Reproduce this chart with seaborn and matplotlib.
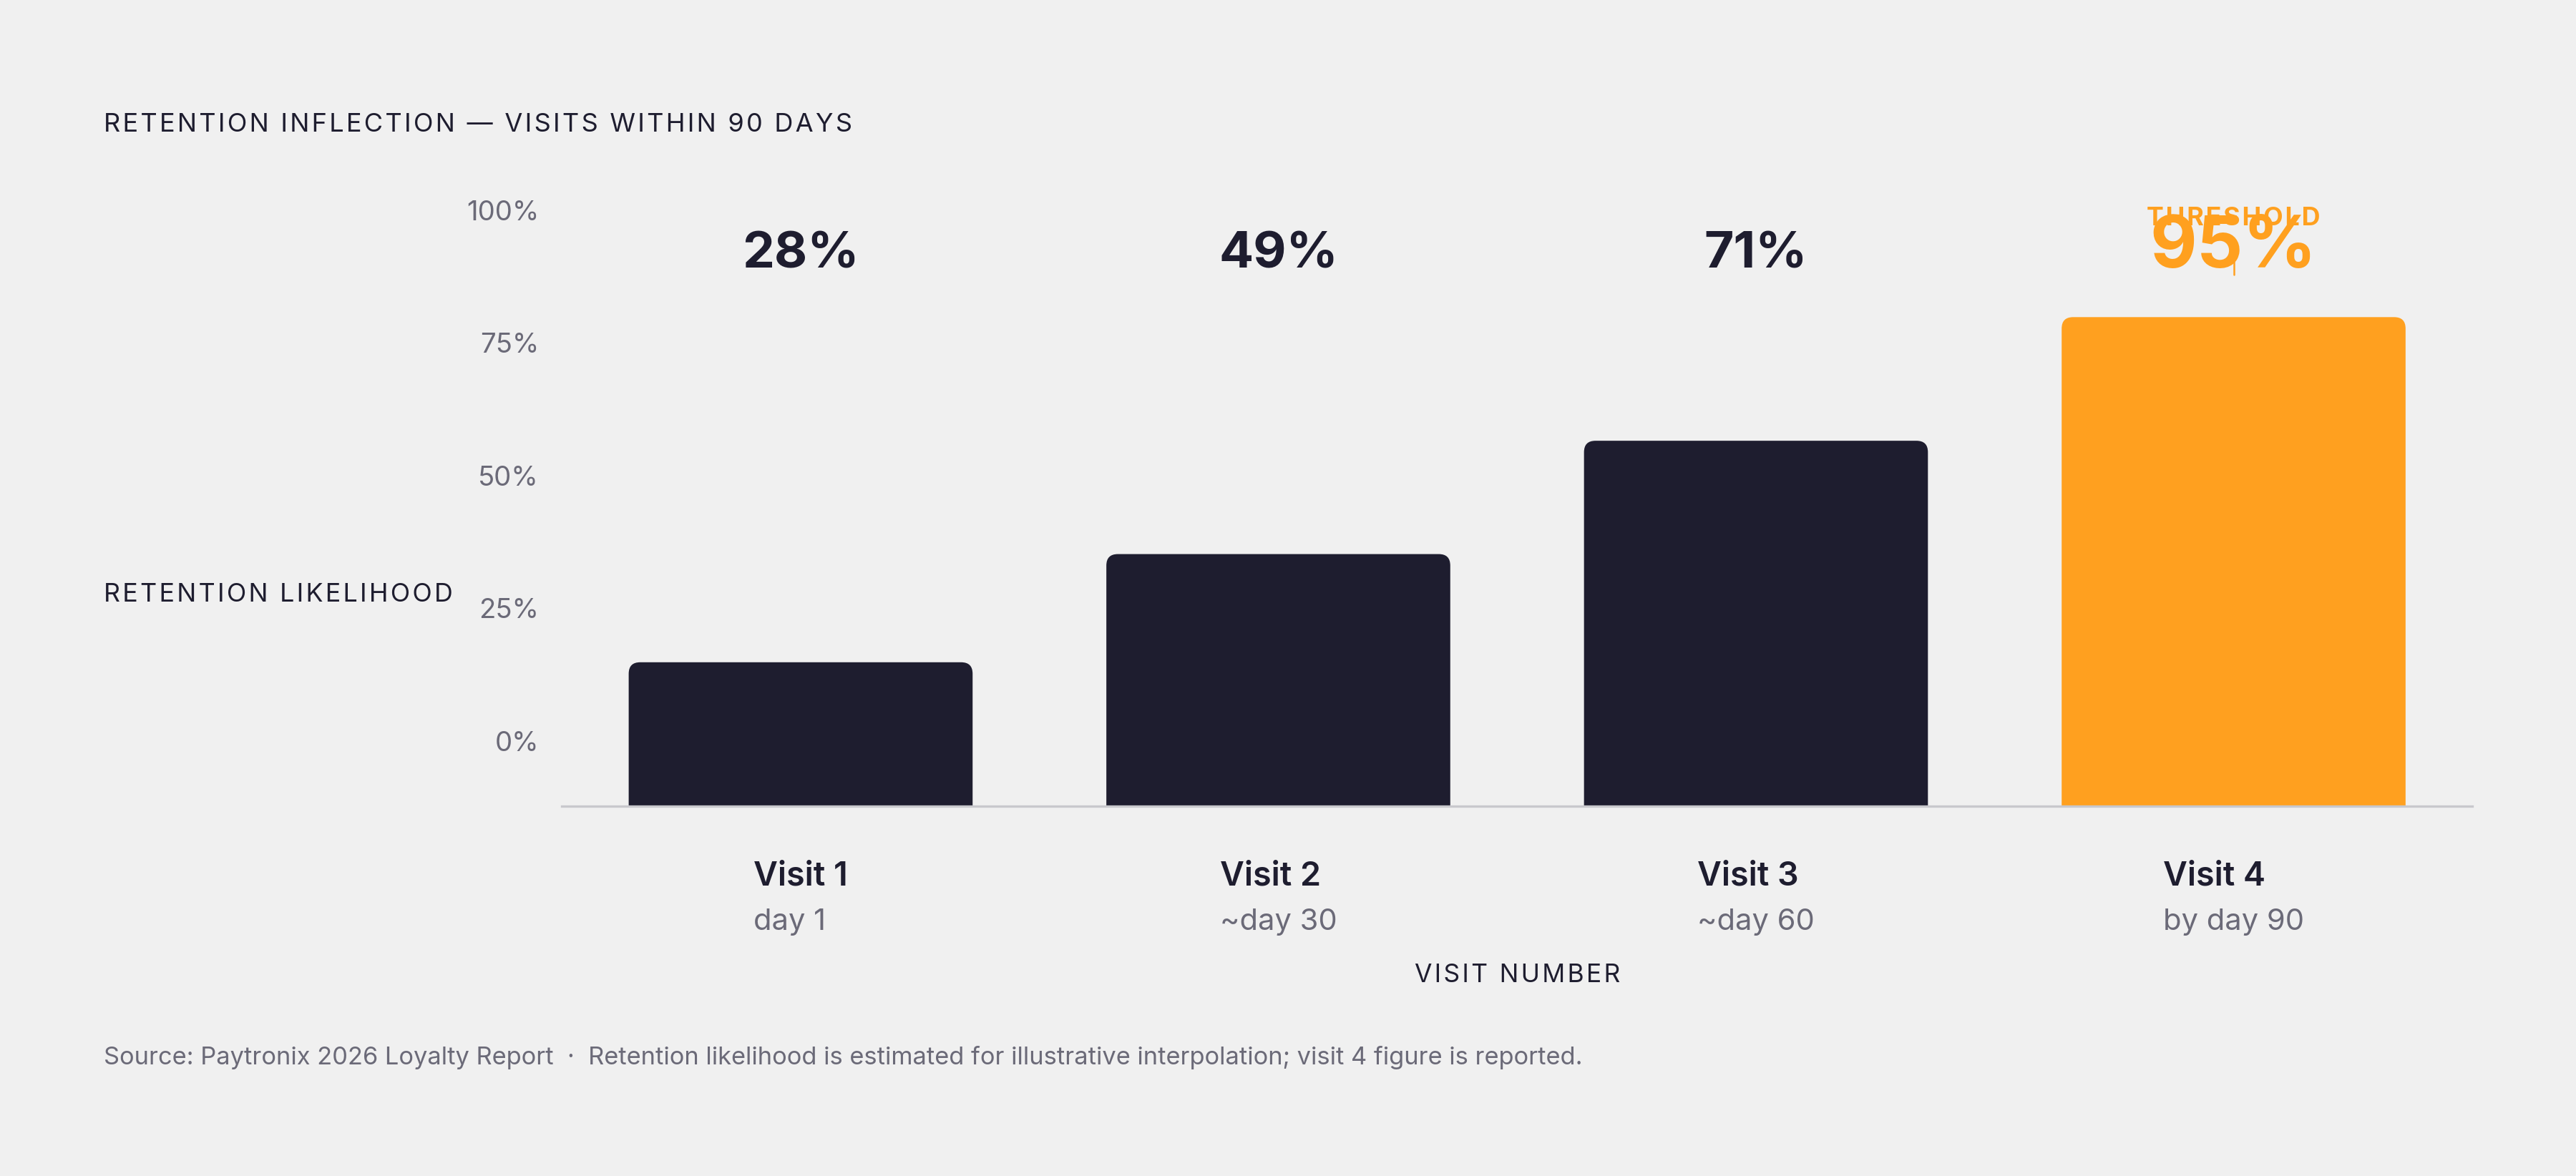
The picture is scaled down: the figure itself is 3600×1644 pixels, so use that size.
import matplotlib
matplotlib.use('Agg')
import matplotlib.pyplot as plt
from matplotlib import transforms
from matplotlib.patches import FancyBboxPatch
import seaborn as sns

# chart data
visits = ['Visit 1', 'Visit 2', 'Visit 3', 'Visit 4']
days = ['day 1', '~day 30', '~day 60', 'by day 90']
retention = [28, 49, 71, 95]
tick_values = [0, 25, 50, 75, 100]
tick_labels = ['0%', '25%', '50%', '75%', '100%']

BG = '#f0f0f0'
INK = '#1e1d2f'
ORANGE = '#ffa01f'
GREY = '#6b6a78'
RULE = '#c8c8cd'

sns.set_theme(style='white')
plt.rcParams['font.family'] = ['Inter', 'DejaVu Sans']


def spaced(s):
    '''fake letter spacing with hair spaces'''
    return '\u200a'.join(s)


fig = plt.figure(figsize=(12, 5.48), dpi=300, facecolor=BG)
ax = fig.add_axes([0.2181, 0.3142, 0.7417, 0.5182])
ax.set_facecolor(BG)

colors = [INK, INK, INK, ORANGE]
sns.barplot(x=visits, y=retention, hue=visits, palette=colors, legend=False,
            width=0.72, saturation=1, ax=ax)
ax.set_xlim(-0.5, 3.5)
ax.set_ylim(0, 118.3)
ax.set_xlabel('')
ax.set_ylabel('')
ax.tick_params(labelbottom=False, labelleft=False, length=0)
for side in ['top', 'right', 'left']:
    ax.spines[side].set_visible(False)
ax.spines['bottom'].set_color(RULE)
ax.spines['bottom'].set_linewidth(0.8)

# swap the plain bars for ones with rounded tops
fig.canvas.draw()
px_x = ax.transData.transform((1, 0))[0] - ax.transData.transform((0, 0))[0]
px_y = ax.transData.transform((0, 1))[1] - ax.transData.transform((0, 0))[1]
aspect = px_x / px_y
rad = 16 / px_x
for bar in list(ax.patches):
    x0, w, h = bar.get_x(), bar.get_width(), bar.get_height()
    fc = bar.get_facecolor()
    bar.remove()
    ax.add_patch(FancyBboxPatch((x0, -rad * aspect), w, h + rad * aspect,
                                boxstyle=f'round,pad=0,rounding_size={rad}',
                                mutation_aspect=aspect, fc=fc, ec='none'))

xt = ax.get_xaxis_transform()

# value labels
for i, v in enumerate(retention):
    hi = i == 3
    ax.text(i, 0.884, f'{v}%', transform=xt, ha='center', va='baseline',
            fontsize=24.3 if hi else 17.1, fontweight='bold',
            color=ORANGE if hi else INK)

ax.text(3, 0.954, spaced('THRESHOLD'), transform=xt, ha='center', va='baseline',
        fontsize=8.6, fontweight='bold', color=ORANGE)
ax.plot([3, 3], [0.873, 0.898], transform=xt, color=ORANGE, lw=0.6, clip_on=False)

# y ticks live on their own scale
tax = ax.twinx()
tax.set_ylim(-12.38, 102.48)
tax.yaxis.tick_left()
tax.set_yticks(tick_values, tick_labels)
tax.tick_params(axis='y', length=0, pad=7.7, labelsize=9.2, labelcolor=GREY)
tax.tick_params(axis='x', length=0, labelbottom=False)
for s in tax.spines.values():
    s.set_visible(False)

# category labels: two lines, left aligned, block centred on bar
pairs = []
for i, (v, d) in enumerate(zip(visits, days)):
    t1 = ax.text(i, -0.129, v, transform=xt, ha='left', va='baseline',
                 fontsize=11.2, fontweight='semibold', color=INK)
    t2 = ax.text(i, -0.202, d, transform=xt, ha='left', va='baseline',
                 fontsize=10, color=GREY)
    pairs.append((t1, t2))
fig.canvas.draw()
rend = fig.canvas.get_renderer()
for t1, t2 in pairs:
    w = max(t1.get_window_extent(rend).width, t2.get_window_extent(rend).width)
    for t in (t1, t2):
        t.set_transform(transforms.offset_copy(xt, fig=fig, x=-w / 2, units='dots'))

ax.text(0.5, -0.288, spaced('VISIT NUMBER'), transform=ax.transAxes,
        ha='center', va='baseline', fontsize=8.5, color=INK)

fig.text(0.0402, 0.8883, spaced('RETENTION INFLECTION — VISITS WITHIN 90 DAYS'),
         fontsize=8.7, color=INK, va='baseline')
fig.text(0.0402, 0.4944, spaced('RETENTION LIKELIHOOD'),
         fontsize=8.62, color=INK, va='center')
fig.text(0.0402, 0.095,
         'Source: Paytronix 2026 Loyalty Report  \u00b7  Retention likelihood is estimated '
         'for illustrative interpolation; visit 4 figure is reported.',
         fontsize=8.27, color=GREY, va='baseline')

fig.savefig('out.png', dpi=300, facecolor=BG)
